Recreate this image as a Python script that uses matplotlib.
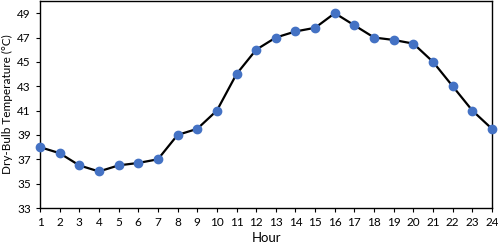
import matplotlib.pyplot as plt

# Données : température sèche horaire
hours = list(range(1, 25))
temps = [38, 37.5, 36.5, 36, 36.5, 36.7, 37, 39, 39.5, 41, 44, 46,
         47, 47.5, 47.8, 49, 48, 47, 46.8, 46.5, 45, 43, 41, 39.5]
yticks = [33, 35, 37, 39, 41, 43, 45, 47, 49]

plt.rcParams['font.family'] = ['Lato', 'DejaVu Sans']

fig = plt.figure(figsize=(4.98, 2.47), dpi=100)
ax = fig.add_axes([40 / 498, 1 - 208 / 247, 452 / 498, 207 / 247])

ax.plot(hours, temps, color='black', linewidth=1.6, zorder=2)
ax.plot(hours, temps, 'o', color='#4472C4', markersize=6, zorder=3, clip_on=False)

ax.set_xlim(1, 24)
ax.set_ylim(33, 50)
ax.set_xticks(hours)
ax.set_yticks(yticks)
ax.tick_params(direction='out', length=3, width=0.8, labelsize=8.5, colors='black')

for s in ax.spines.values():
    s.set_linewidth(1.0)
    s.set_color('black')

ax.set_xlabel('Hour', fontsize=9.5, labelpad=3)
ax.set_ylabel('Dry-Bulb Temperature (°C)', fontsize=8.5, labelpad=3)

fig.savefig('out.png', dpi=100)
